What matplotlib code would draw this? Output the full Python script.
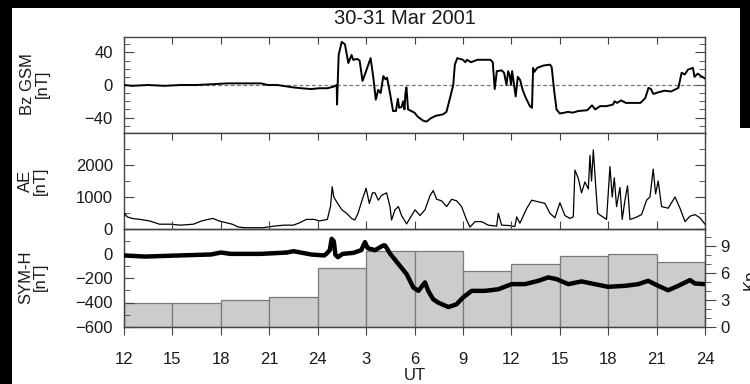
import matplotlib
matplotlib.use("Agg")
import matplotlib.pyplot as plt
from matplotlib.patches import Rectangle
from matplotlib.ticker import MultipleLocator, FixedLocator

plt.rcParams['font.family'] = ['Liberation Sans', 'DejaVu Sans']

# ---------------- data (hours since 00 UT on 30 Mar 2001) ----------------
bz_t = [12.0, 12.5, 13.5, 14.5, 15.5, 16.5, 17.5, 18.4, 19.5, 20.5, 20.9, 21.5, 22.5, 23.0, 23.6, 24.1, 24.6,
        25.0, 25.18, 25.2, 25.3, 25.49, 25.69, 25.9, 26.1, 26.2, 26.46, 26.6, 26.78, 27.0, 27.28, 27.45, 27.6,
        27.75, 27.9, 28.07, 28.2, 28.3, 28.5, 28.67, 28.85, 28.97, 29.05, 29.2, 29.3, 29.38, 29.44, 29.5, 29.6,
        30.0, 30.2, 30.55, 30.75, 31.0, 31.3, 31.77, 31.98, 32.2, 32.4, 32.5, 32.65, 33.0, 33.15, 33.25, 33.5,
        33.9, 34.3, 34.7, 34.85, 34.97, 35.1, 35.4, 35.55, 35.7, 35.8, 35.9, 35.98, 36.05, 36.27, 36.4, 36.55,
        36.7, 36.9, 37.15, 37.28, 37.35, 37.42, 37.6, 38.0, 38.4, 38.5, 38.66, 38.8, 39.0, 39.3, 39.5, 39.8,
        40.15, 40.7, 41.0, 41.2, 41.5, 41.9, 42.3, 42.4, 42.55, 42.8, 43.1, 43.5, 44.0, 44.3, 44.5, 44.65,
        44.8, 45.1, 45.5, 45.9, 46.35, 46.55, 46.75, 46.95, 47.25, 47.35, 47.55, 47.75, 48.0]
bz_v = [0, -1, 0, -1, 0, 0, 1, 2, 2, 2, 0, 0, -3, -4, -5, -4, -4,
        -2, 0, -24, 37, 53, 50, 27, 37, 31, 32, 30, 5, 17, 33, 9, -18,
        -6, -10, 11, 7, 9, -12, -32, -32, -17, -28, -27, -20, -30, -10, -3, -30,
        -34, -39, -44, -45, -41, -38, -36, -33, -16, 0, 25, 33, 31, 28, 31, 28,
        31, 31, 31, 28, -5, 17, 18, 15, 0, 17, 12, 0, 17, -14, 10, 6,
        -6, -16, -26, -28, 21, 16, 21, 24, 25, 22, -8, -30, -35, -34, -33, -34,
        -32, -31, -25, -30, -26, -26, -24, -20, -22, -19, -22, -22, -22, -16, -3.5, -5,
        -11, -9, -7, -8, -3.5, 15, 13, 19, 21, 10, 14, 11, 8]

ae_t = [12.0, 12.05, 12.2, 12.5, 13.0, 13.6, 14.2, 14.9, 15.5, 16.3, 16.8, 17.2, 17.5, 17.9, 18.7, 19.1,
        19.5, 20.6, 21.3, 21.9, 22.5, 22.9, 23.3, 23.8, 24.1, 24.6, 24.8, 24.9, 25.0, 25.2, 25.5, 25.8,
        26.1, 26.3, 26.5, 26.75, 27.0, 27.2, 27.4, 27.55, 27.76, 27.96, 28.27, 28.48, 28.58, 28.79, 29.0,
        29.2, 29.51, 29.82, 30.03, 30.34, 30.65, 30.96, 31.16, 31.37, 31.68, 31.99, 32.3, 32.61, 32.92,
        33.23, 33.44, 33.75, 34.16, 34.57, 35.09, 35.19, 35.4, 35.81, 36.22, 36.33, 36.53, 36.95, 37.26,
        37.67, 38.08, 38.39, 38.7, 39.01, 39.32, 39.63, 39.84, 39.94, 40.15, 40.35, 40.56, 40.77, 40.87,
        40.97, 41.08, 41.22, 41.35, 41.6, 41.9, 42.11, 42.25, 42.38, 42.52, 42.73, 42.87, 43.04, 43.2,
        43.35, 43.66, 44.07, 44.38, 44.59, 44.79, 44.94, 45.1, 45.31, 45.72, 46.14, 46.45, 46.76, 47.07,
        47.38, 47.69, 48.0]
ae_v = [400, 490, 380, 330, 300, 250, 150, 150, 120, 150, 250, 300, 330, 250, 150, 60,
        40, 40, 90, 120, 120, 200, 300, 300, 250, 300, 720, 1320, 1000, 830, 600, 490,
        330, 280, 490, 900, 1270, 800, 1130, 1130, 900, 1050, 1130, 700, 280, 600, 700,
        420, 160, 420, 600, 420, 600, 1040, 1200, 930, 880, 700, 930, 880, 700,
        280, 60, 230, 230, 120, 90, 490, 120, 110, 80, 380, 180, 640, 900,
        850, 800, 490, 350, 820, 420, 330, 380, 1840, 1580, 1130, 1470, 1250, 2300,
        1500, 2470, 1400, 490, 400, 300, 1950, 1000, 1600, 700, 1300, 300, 900, 1350,
        300, 350, 450, 900, 1000, 1870, 1100, 1500, 700, 650, 1000, 650, 230, 400,
        450, 350, 150]

sym_t = [12.0, 13.3, 15.4, 17.4, 18.0, 18.6, 20.5, 22.1, 22.5, 23.6, 24.4, 24.56, 24.75, 24.87, 25.0,
         25.1, 25.25, 25.55, 26.2, 26.7, 26.93, 27.1, 27.55, 28.07, 28.17, 28.3, 28.48, 29.0, 29.51, 29.93,
         30.24, 30.65, 30.85, 31.16, 31.47, 32.1, 32.6, 33.0, 33.54, 34.37, 35.19, 36.02, 36.84, 37.67,
         38.29, 38.8, 39.53, 40.35, 41.17, 41.99, 43.04, 43.87, 44.48, 45.1, 45.72, 46.34, 47.07, 47.38, 48.0]
sym_v = [-16, -25, -16, -8, 8, -3, -3, 8, 19, -8, -16, 0, 27, 120, 100,
         -10, -30, -3, 5, 27, 93, 44, 27, 66, 66, 40, 0, -85, -168, -278,
         -305, -236, -305, -374, -401, -437, -415, -360, -305, -305, -292, -250, -250, -223,
         -195, -209, -250, -228, -250, -272, -264, -250, -223, -264, -300, -264, -217, -245, -250]

kp_start = [12, 15, 18, 21, 24, 27, 30, 33, 36, 39, 42, 45]
kp_vals = [2.7, 2.7, 3.0, 3.3, 6.6, 8.4, 8.4, 6.2, 7.0, 7.9, 8.1, 7.2]

xtick_pos = [12, 15, 18, 21, 24, 27, 30, 33, 36, 39, 42, 45, 48]
xtick_lab = ['12', '15', '18', '21', '24', '3', '6', '9', '12', '15', '18', '21', '24']

# ---------------- figure ----------------
W, H = 750, 384
fig = plt.figure(figsize=(7.5, 3.84), dpi=100, facecolor='white')
for (x0, y0, w, h) in [(0, 0, 12, H), (0, H - 8, W, 8), (740, H - 128, 10, 128)]:
    fig.patches.append(Rectangle((x0 / W, y0 / H), w / W, h / H, transform=fig.transFigure,
                                 facecolor='black', edgecolor='none', zorder=-5))

tc = '#1a1a1a'
sc = '#444444'
fs = 12
left, right = 124 / W, 705 / W


def ax_rect(top, bot):
    return [left, 1 - bot / H, right - left, (bot - top) / H]


ax1 = fig.add_axes(ax_rect(37, 133))
ax2 = fig.add_axes(ax_rect(133, 229))
ax3 = fig.add_axes(ax_rect(229, 327))

for ax in (ax1, ax2, ax3):
    ax.set_xlim(12, 48)
    for s in ax.spines.values():
        s.set_color(sc)
        s.set_linewidth(1.0)
    ax.xaxis.set_major_locator(FixedLocator(xtick_pos))
    ax.tick_params(axis='x', which='major', top=True, bottom=False, direction='in', length=5,
                   color=sc, labelbottom=False)
    ax.tick_params(axis='y', which='both', left=True, right=True, direction='in', color=sc,
                   labelsize=fs, labelcolor=tc, pad=8)
    ax.tick_params(axis='y', which='major', length=7)
    ax.tick_params(axis='y', which='minor', length=4)

# Panel 1: Bz
ax1.plot(bz_t, bz_v, color='black', lw=1.4, zorder=3)
ax1.axhline(0, color='#777777', lw=0.9, ls=(0, (3, 2)), zorder=2)
ax1.set_ylim(-59, 59)
ax1.set_yticks([-40, 0, 40])
ax1.yaxis.set_minor_locator(MultipleLocator(10))

# Panel 2: AE
ax2.plot(ae_t, ae_v, color='black', lw=0.9, zorder=3)
ax2.set_ylim(0, 3000)
ax2.set_yticks([0, 1000, 2000])
ax2.yaxis.set_minor_locator(MultipleLocator(500))

# Panel 3: SYM-H + Kp
ax3.set_ylim(-600, 200)
ax3.set_yticks([-600, -400, -200, 0])
ax3.yaxis.set_minor_locator(MultipleLocator(100))
ax3.tick_params(axis='y', which='both', right=False)
ax3.tick_params(axis='x', which='major', bottom=True, labelbottom=True, labelsize=fs,
                labelcolor=tc)
ax3.xaxis.set_tick_params(which='major', direction='out', length=6, pad=12)
ax3.set_xticklabels(xtick_lab)
ax3.set_xlabel('UT', fontsize=fs, color=tc, labelpad=1)

axk = ax3.twinx()
axk.set_ylim(0, 10.9)
axk.set_xlim(12, 48)
axk.bar(kp_start, kp_vals, width=3, align='edge', color='#cccccc', edgecolor='#7a7a7a', lw=0.9)
axk.set_yticks([0, 3, 6, 9])
axk.yaxis.set_minor_locator(MultipleLocator(1))
axk.tick_params(axis='y', which='both', direction='out', color=sc, labelsize=fs, labelcolor=tc, pad=3)
axk.tick_params(axis='y', which='major', length=8)
axk.tick_params(axis='y', which='minor', length=4)
for s in axk.spines.values():
    s.set_color(sc)
axk.set_zorder(ax3.get_zorder() - 1)
axk.patch.set_visible(True)
axk.patch.set_facecolor('white')
ax3.patch.set_visible(False)
ax3.plot(sym_t, sym_v, color='black', lw=3.2, zorder=3, solid_capstyle='round', solid_joinstyle='round')

# Labels
fig.text(35 / W, 1 - 84 / H, 'Bz GSM\n[nT]', rotation=90, ha='center', va='center', fontsize=fs,
         color=tc, multialignment='center', linespacing=1.0)
fig.text(33 / W, 1 - 181 / H, 'AE\n[nT]', rotation=90, ha='center', va='center', fontsize=fs,
         color=tc, multialignment='center', linespacing=1.0)
fig.text(33 / W, 1 - 277 / H, 'SYM-H\n[nT]', rotation=90, ha='center', va='center', fontsize=fs,
         color=tc, multialignment='center', linespacing=1.0)
fig.text(743 / W, 1 - 280 / H, 'Kp', rotation=90, ha='left', va='center', fontsize=fs, color=tc)
fig.text(405 / W, 1 - 19 / H, '30-31 Mar 2001', ha='center', va='center', fontsize=14.5, color=tc)

fig.savefig('out.png', dpi=100, facecolor='white')
